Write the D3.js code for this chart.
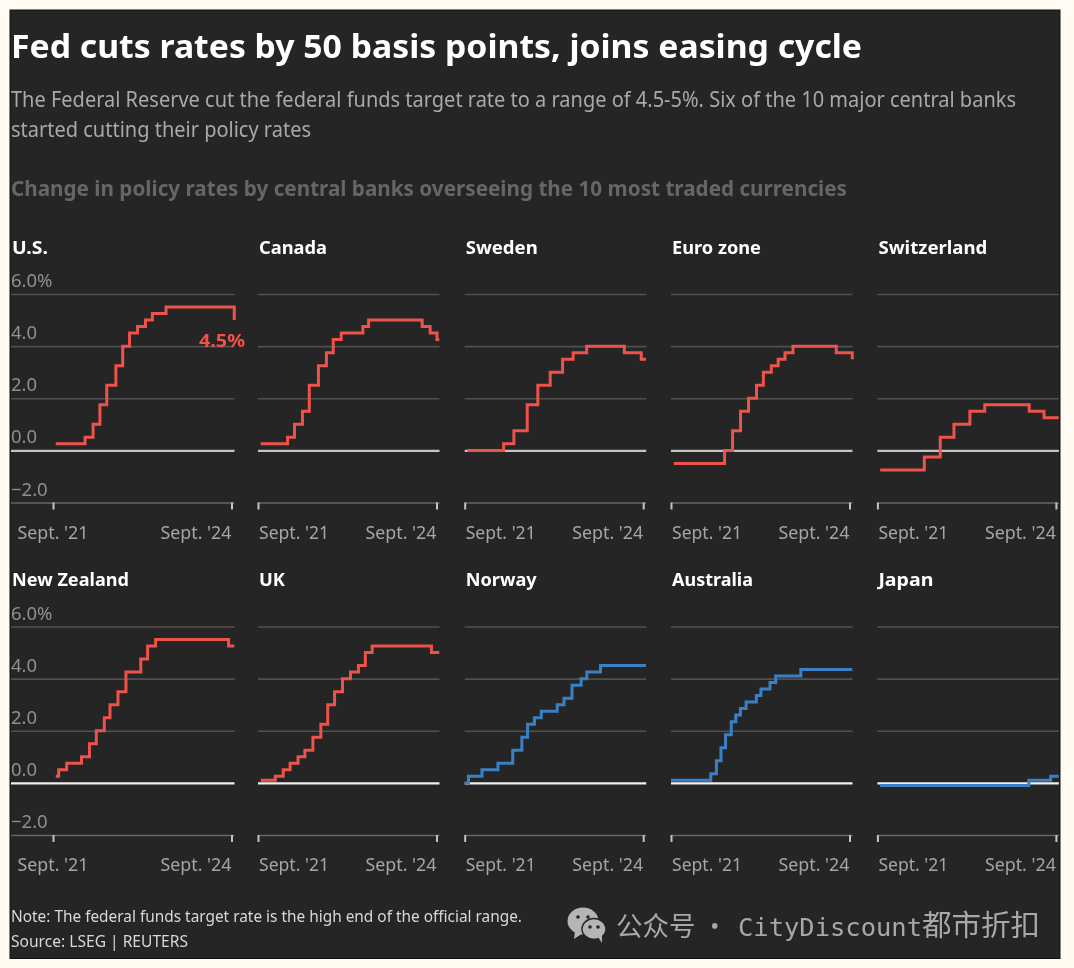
<!DOCTYPE html>
<html><head><meta charset="utf-8">
<script src="https://cdn.jsdelivr.net/npm/d3@7"></script>
<style>html,body{margin:0;padding:0;background:#fffbf3;overflow:hidden}svg{display:block}text{font-family:"Noto Sans",sans-serif}</style>
</head><body><svg id="c" width="1074" height="968"></svg>
<script>
// ---------- data ----------
const titleText = "Fed cuts rates by 50 basis points, joins easing cycle";
const subtitleLines = ["The Federal Reserve cut the federal funds target rate to a range of 4.5-5%. Six of the 10 major central banks","started cutting their policy rates"];
const sectionText = "Change in policy rates by central banks overseeing the 10 most traded currencies";
const noteLines = ["Note: The federal funds target rate is the high end of the official range.","Source: LSEG | REUTERS"];
const watermarkParts = ["公众号 · ","CityDiscount","都市折扣"];
const yTicks = [6,4,2,0,-2];
const xTickDates = ["2021-09-01","2024-09-01"];
const xTickLabels = ["Sept. '21","Sept. '24"];
const endDate = "2024-09-18";

const names = ["U.S.","Canada","Sweden","Euro zone","Switzerland","New Zealand","UK","Norway","Australia","Japan"];
const usDates = ["2021-09-18","2022-03-17","2022-05-05","2022-06-16","2022-07-28","2022-09-22","2022-11-03","2022-12-15","2023-02-02","2023-03-23","2023-05-04","2023-07-27","2024-09-18"];
const usRates = [0.25,0.5,1,1.75,2.5,3.25,4,4.5,4.75,5,5.25,5.5,5];
const caDates = ["2021-09-18","2022-03-02","2022-04-13","2022-06-01","2022-07-13","2022-09-07","2022-10-26","2022-12-07","2023-01-25","2023-06-07","2023-07-12","2024-06-05","2024-07-24","2024-09-04"];
const caRates = [0.25,0.5,1,1.5,2.5,3.25,3.75,4.25,4.5,4.75,5,4.75,4.5,4.25];
const seDates = ["2021-09-18","2022-04-28","2022-06-30","2022-09-20","2022-11-24","2023-02-08","2023-04-25","2023-06-29","2023-09-20","2024-05-08","2024-08-20"];
const seRates = [0,0.25,0.75,1.75,2.5,3,3.5,3.75,4,3.75,3.5];
const euDates = ["2021-09-18","2022-07-27","2022-09-14","2022-11-02","2022-12-21","2023-02-08","2023-03-22","2023-05-10","2023-06-21","2023-08-02","2023-09-20","2024-06-12","2024-09-18"];
const euRates = [-0.5,0,0.75,1.5,2,2.5,3,3.25,3.5,3.75,4,3.75,3.5];
const chDates = ["2021-09-18","2022-06-16","2022-09-22","2022-12-15","2023-03-23","2023-06-22","2024-03-21","2024-06-20"];
const chRates = [-0.75,-0.25,0.5,1,1.5,1.75,1.5,1.25];
const nzDates = ["2021-09-18","2021-10-06","2021-11-24","2022-02-23","2022-04-13","2022-05-25","2022-07-13","2022-08-17","2022-10-05","2022-11-23","2023-02-22","2023-04-05","2023-05-24","2024-08-14"];
const nzRates = [0.25,0.5,0.75,1,1.5,2,2.5,3,3.5,4.25,4.75,5.25,5.5,5.25];
const ukDates = ["2021-09-18","2021-12-16","2022-02-03","2022-03-17","2022-05-05","2022-06-16","2022-08-04","2022-09-22","2022-11-03","2022-12-15","2023-02-02","2023-03-23","2023-05-11","2023-06-22","2023-08-03","2024-08-01"];
const ukRates = [0.1,0.25,0.5,0.75,1,1.25,1.75,2.25,3,3.5,4,4.25,4.5,5,5.25,5];
const noDates = ["2021-09-01","2021-09-24","2021-12-16","2022-03-24","2022-06-23","2022-08-18","2022-09-22","2022-11-03","2022-12-15","2023-03-23","2023-05-04","2023-06-22","2023-08-17","2023-09-21","2023-12-14"];
const noRates = [0,0.25,0.5,0.75,1.25,1.75,2.25,2.5,2.75,3,3.25,3.75,4,4.25,4.5];
const auDates = ["2021-09-01","2022-05-03","2022-06-07","2022-07-05","2022-08-02","2022-09-06","2022-10-04","2022-11-01","2022-12-06","2023-02-07","2023-03-07","2023-05-02","2023-06-06","2023-11-07"];
const auRates = [0.1,0.35,0.85,1.35,1.85,2.35,2.6,2.85,3.1,3.35,3.6,3.85,4.1,4.35];
const jpDates = ["2021-09-18","2024-03-19","2024-07-31"];
const jpRates = [-0.1,0.1,0.25];
const allDates = [usDates,caDates,seDates,euDates,chDates,nzDates,ukDates,noDates,auDates,jpDates];
const allRates = [usRates,caRates,seRates,euRates,chRates,nzRates,ukRates,noRates,auRates,jpRates];
const cutting = [true,true,true,true,true,true,true,false,false,false];
const callout = "4.5%";

// ---------- layout ----------
const W = 1074, H = 968;
const RED = "#ee524a", BLUE = "#3a80c6";
const axisLeft = [53,258,464.7,671,877.4];
const gridLeft = [11,258,464.7,671,877.4];
const titleWidths = [36,68,72,89,109,117,26,71,81,55];
const rowTop = [294,626.5];
const rowTitleY = [254,586];
const plotH = 208.5;
const tickSpan = 178.5;

const svg = d3.select("#c");
const parse = d3.utcParse("%Y-%m-%d");
svg.append("rect").attr("width",W).attr("height",H).attr("fill","#fffbf3");
svg.append("rect").attr("x",10).attr("y",10).attr("width",1050).attr("height",948.5).attr("fill","#252525").attr("stroke","#111").attr("stroke-width",1);
const root = svg.append("g").attr("style","filter:blur(0.55px)");

function txt(g,s,x,y,size,weight,fill,len,anchor){
  const t=g.append("text").attr("x",x).attr("y",y).attr("font-size",size).attr("font-weight",weight).attr("fill",fill).text(s);
  if(anchor) t.attr("text-anchor",anchor);
  if(len) t.attr("textLength",len).attr("lengthAdjust","spacingAndGlyphs");
  return t;
}
txt(root,titleText,11,58,33,700,"#ffffff",851);
txt(root,subtitleLines[0],11,107,21,400,"#a9a9a9",1005);
txt(root,subtitleLines[1],11,137,21,400,"#a9a9a9",300);
txt(root,sectionText,11,196,21,700,"#666666",836);
txt(root,noteLines[0],11,922,16,400,"#d8d8d8",511);
txt(root,noteLines[1],11,947,16,400,"#d8d8d8",177);

names.forEach((name,i)=>{
  const col=i%5,row=Math.floor(i/5);
  const x0=axisLeft[col], top=rowTop[row], gl=gridLeft[col];
  const x=d3.scaleUtc().domain(xTickDates.map(parse)).range([x0,x0+tickSpan]);
  const y=d3.scaleLinear().domain([6,-2]).range([top,top+plotH]);
  const right=x0+tickSpan+3;
  const g=root.append("g");
  txt(g,name,col===0?12:x0+1,rowTitleY[row],18.5,700,"#ffffff",titleWidths[i]);

  const gy=g.append("g").attr("transform",`translate(${right},0)`)
    .call(d3.axisLeft(y).tickValues(yTicks).tickSize(right-gl).tickFormat(""));
  gy.select(".domain").remove();
  gy.selectAll(".tick line").attr("stroke",d=>d===0?(row===0?"#c4c4c4":"#f0f0f0"):(d===-2?"#666":"#505050"))
    .attr("stroke-width",d=>d===0?2.2:1.6);

  if(col===0){
    yTicks.forEach(v=>txt(g,(v<0?"−":"")+Math.abs(v).toFixed(1)+(v===6?"%":""),11,y(v)-7,18.5,400,"#8f8f8f"));
  }

  const gx=g.append("g").attr("transform",`translate(0,${top+plotH})`)
    .call(d3.axisBottom(x).tickValues(xTickDates.map(parse)).tickSize(7).tickFormat(""));
  gx.select(".domain").remove();
  gx.selectAll(".tick line").attr("stroke","#c4c4c4").attr("stroke-width",2);
  txt(g,xTickLabels[0],col===0?x0:x0+1,top+plotH+36,18.5,400,"#a5a5a5",col===0?71:70,col===0?"middle":null);
  txt(g,xTickLabels[1],x0+tickSpan,top+plotH+36,18.5,400,"#a5a5a5",71,"end");

  const pts=allDates[i].map((d,k)=>[parse(d),allRates[i][k]]);
  const last=pts[pts.length-1];
  const end=parse(endDate);
  if(last[0]<end) pts.push([end,last[1]]);
  const line=d3.line().x(d=>x(d[0])).y(d=>y(d[1])).curve(d3.curveStepAfter);
  g.append("path").datum(pts).attr("fill","none").attr("stroke",cutting[i]?RED:BLUE)
    .attr("stroke-width",3).attr("d",line);
  if(i===0) txt(g,callout,222,347,17,700,RED,46,"middle");
});

// watermark
const wm=root.append("g");
wm.append("ellipse").attr("cx",583).attr("cy",921).attr("rx",15.5).attr("ry",13.5).attr("fill","#b5b5b5");
wm.append("path").attr("d","M575 931 L574 939 L583 933Z").attr("fill","#b5b5b5");
wm.append("ellipse").attr("cx",594).attr("cy",929).attr("rx",12).attr("ry",10.5).attr("fill","#b5b5b5").attr("stroke","#252525").attr("stroke-width",1.5);
wm.append("path").attr("d","M598 937 L602 943 L602 934Z").attr("fill","#b5b5b5");
[[578,917],[588,917],[590,927],[598,927]].forEach(p=>wm.append("circle").attr("cx",p[0]).attr("cy",p[1]).attr("r",1.8).attr("fill","#252525"));
const cjk='"Noto Sans CJK SC","Noto Sans",sans-serif';
txt(wm,watermarkParts[0],616,936,27,400,"#a8a8a8",112).style("font-family",cjk);
txt(wm,watermarkParts[1],738,936,25,400,"#a8a8a8",184).style("font-family",'"DejaVu Sans Mono",monospace');
txt(wm,watermarkParts[2],922,936,29,400,"#a8a8a8",118).style("font-family",cjk);
</script></body></html>
